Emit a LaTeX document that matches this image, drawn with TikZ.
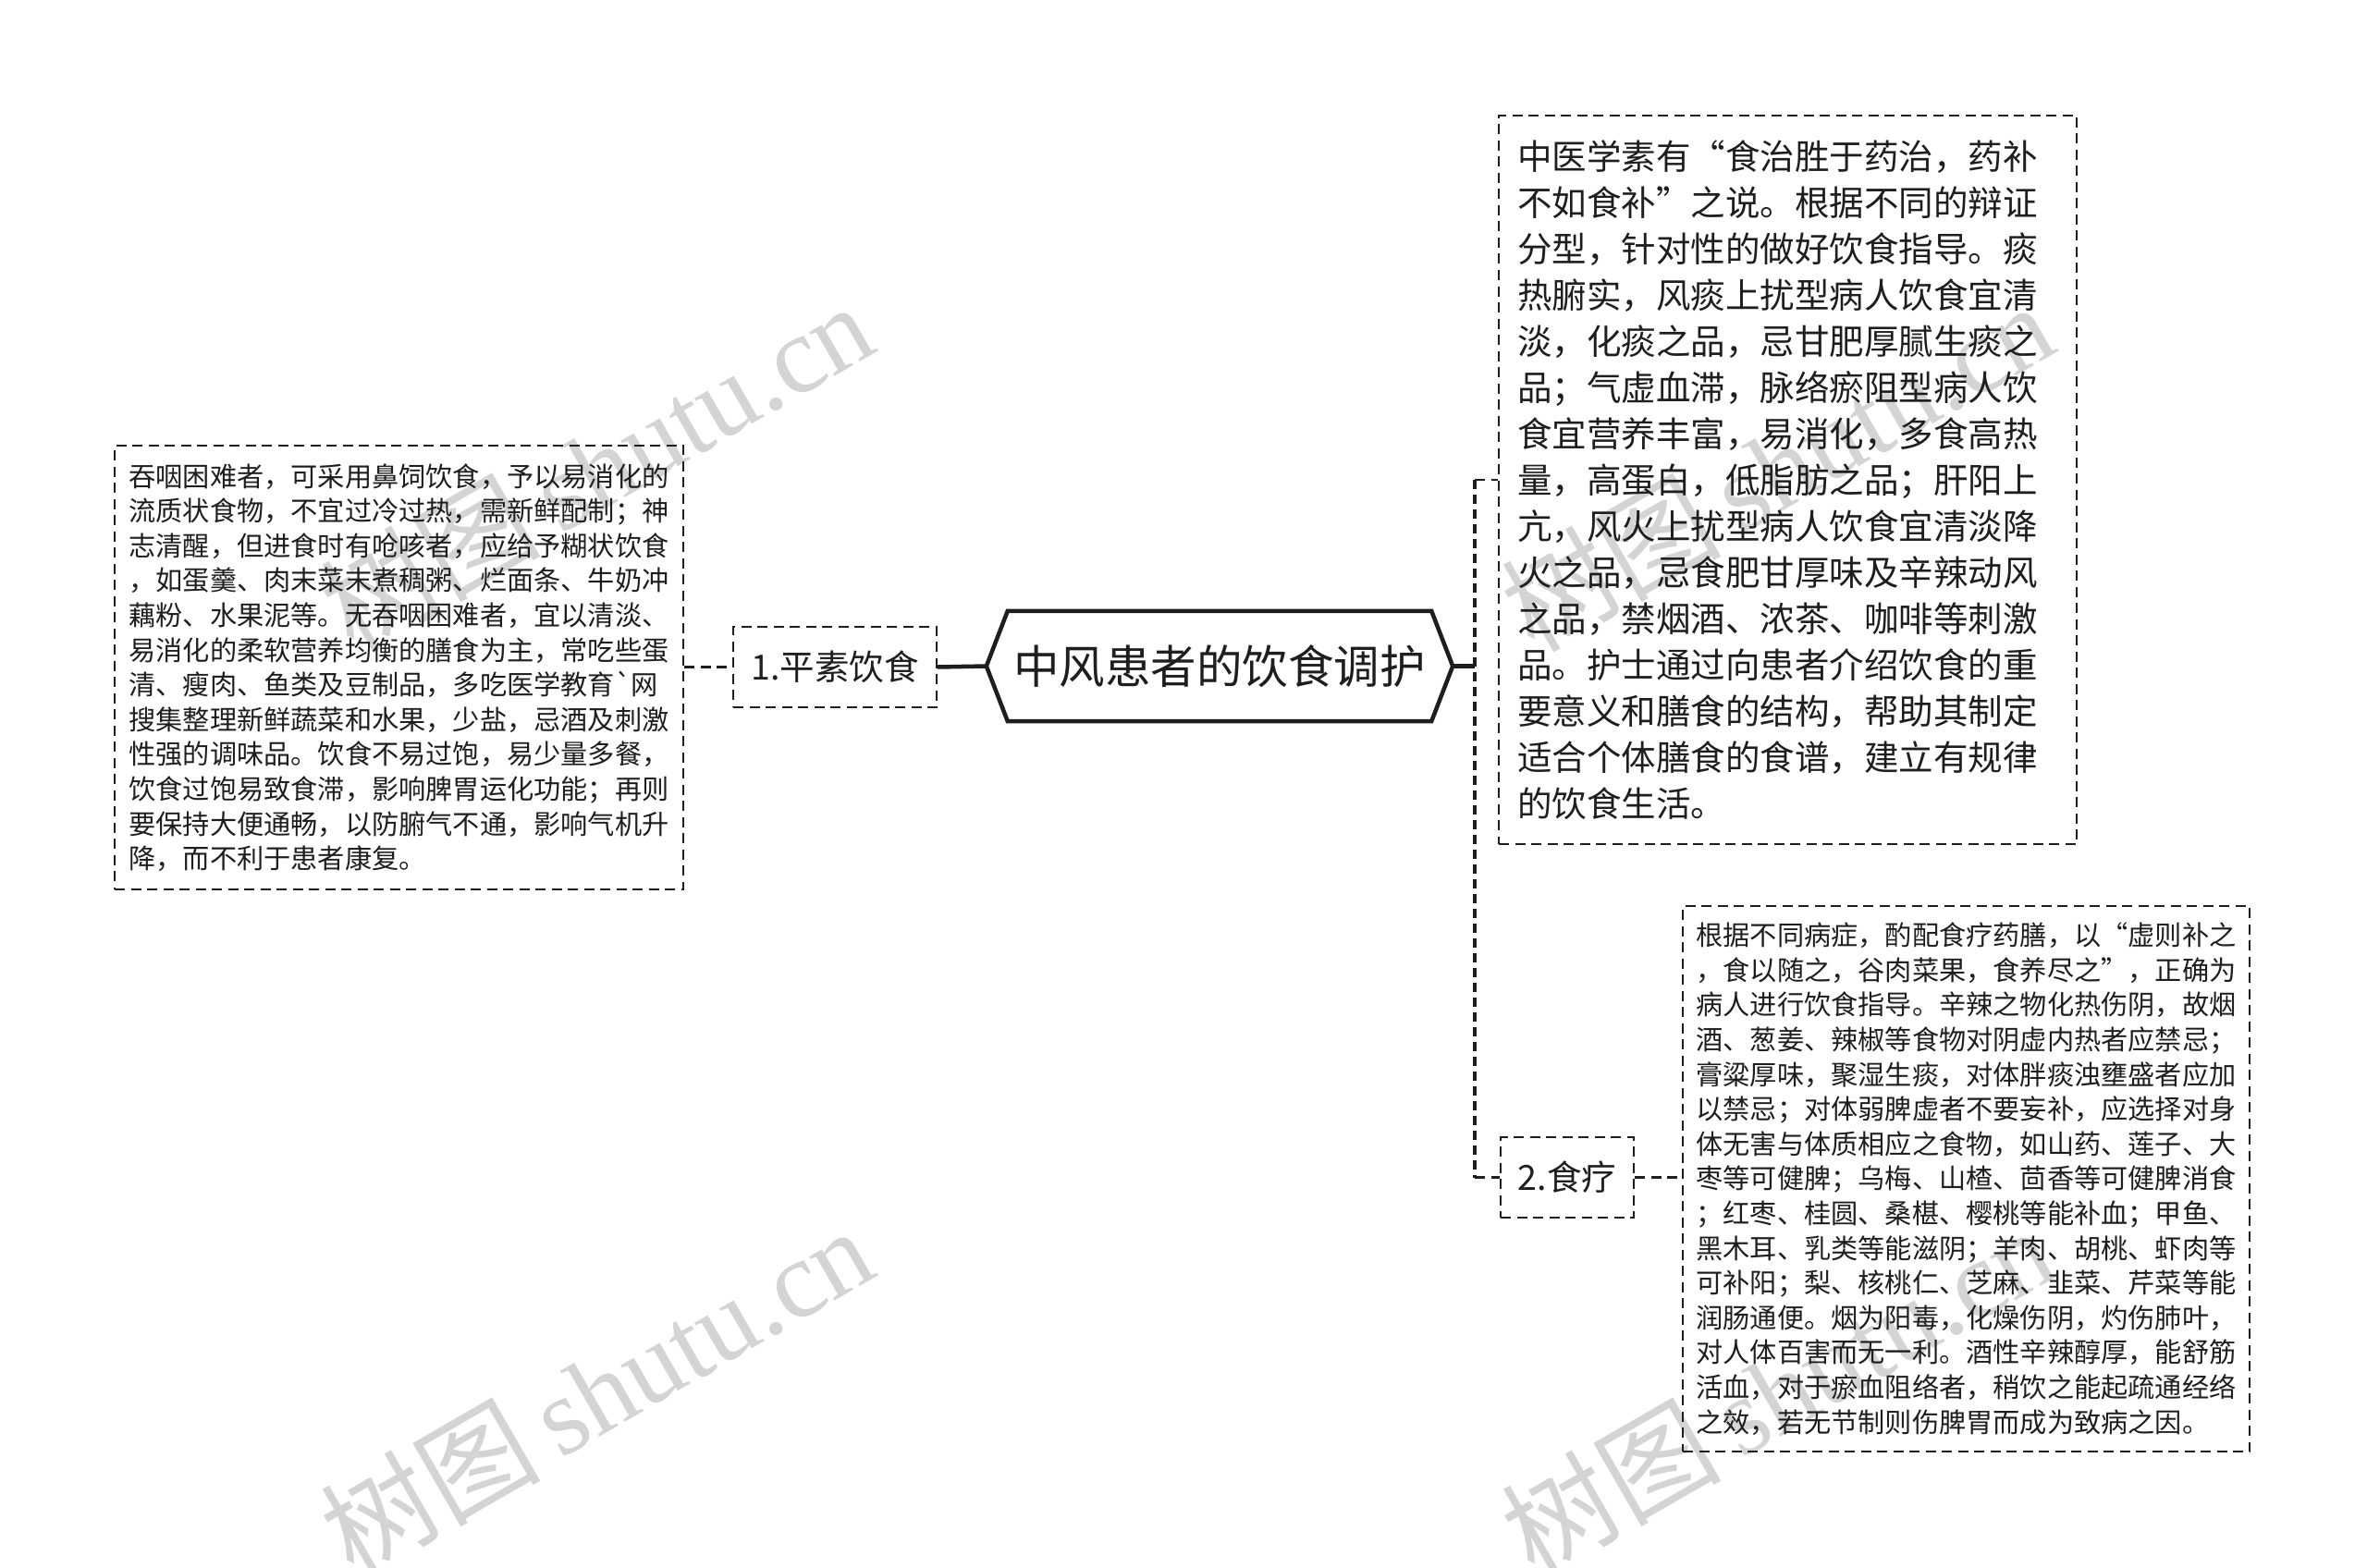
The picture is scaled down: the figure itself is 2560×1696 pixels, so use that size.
\documentclass[tikz,border=0pt]{standalone}
\usepackage{fontspec}
\usetikzlibrary{calc}
\newfontfamily\cjk{Noto Sans CJK SC}[Ligatures=TeXOff]
\newfontfamily\wmserif{Liberation Serif}
\definecolor{txt}{RGB}{30,30,30}
\definecolor{wmc}{RGB}{212,212,212}
\tikzset{
  wm/.style={text=wmc, inner sep=0pt, font=\fontsize{119}{119}\selectfont},
  boxdash/.style={draw=txt, line width=2.3pt, dash pattern=on 11pt off 6.5pt},
  leafa/.style={boxdash, align=left, inner sep=0pt, text=txt,
     font=\cjk\fontsize{29.2}{37.6}\selectfont},
  leafb/.style={boxdash, align=left, inner sep=0pt, text=txt,
     font=\cjk\fontsize{37.5}{50}\selectfont},
  subbox/.style={boxdash, inner sep=0pt, text=txt,
     font=\cjk\fontsize{37.5}{45}\selectfont},
  rootbox/.style={inner sep=0pt, text=txt, font=\cjk\fontsize{49.5}{56}\selectfont},
  rootline/.style={draw=txt, line width=4.5pt, line join=miter},
  solidc/.style={draw=txt, line width=4.5pt},
  thickdash/.style={draw=txt, line width=4.5pt, dash pattern=on 10pt off 6pt},
  thindash/.style={draw=txt, line width=2.3pt, dash pattern=on 11pt off 6.5pt}
}
\begin{document}
\begin{tikzpicture}[x=1pt,y=-1pt]
\useasboundingbox (0,0) rectangle (2560,1696);
\fill[white] (0,0) rectangle (2560,1696);
% watermarks
\node[wm, rotate=30] (wm1) at (645,504) {{\cjk 树图}\,{\wmserif shutu.cn}};
\node[wm, rotate=30] (wm2) at (645,1504) {{\cjk 树图}\,{\wmserif shutu.cn}};
\node[wm, rotate=30] (wm3) at (1922,504) {{\cjk 树图}\,{\wmserif shutu.cn}};
\node[wm, rotate=30] (wm4) at (1922,1504) {{\cjk 树图}\,{\wmserif shutu.cn}};
% root
\node[rootbox, minimum width=458pt, minimum height=119pt] (root) at (1319,720.5) {中风患者的饮食调护};
\coordinate (rootL) at ($(root.west)+(-23,0)$);
\coordinate (rootR) at ($(root.east)+(23,0)$);
\draw[rootline] (rootL) -- (root.north west) -- (root.north east) -- (rootR) -- (root.south east) -- (root.south west) -- cycle;
% first branch
\node[subbox, minimum width=220pt, minimum height=87pt] (n1) at (903,721.5) {1.平素饮食};
\node[leafa, minimum width=615pt, minimum height=480pt] (L1) at (431.5,722) {%
吞咽困难者，可采用鼻饲饮食，予以易消化的\\
流质状食物，不宜过冷过热，需新鲜配制；神\\
志清醒，但进食时有呛咳者，应给予糊状饮食\\
，如蛋羹、肉末菜末煮稠粥、烂面条、牛奶冲\\
藕粉、水果泥等。无吞咽困难者，宜以清淡、\\
易消化的柔软营养均衡的膳食为主，常吃些蛋\\
清、瘦肉、鱼类及豆制品，多吃医学教育`网\\
搜集整理新鲜蔬菜和水果，少盐，忌酒及刺激\\
性强的调味品。饮食不易过饱，易少量多餐，\\
饮食过饱易致食滞，影响脾胃运化功能；再则\\
要保持大便通畅，以防腑气不通，影响气机升\\
降，而不利于患者康复。};
% right side
\node[leafb, text width=585pt, minimum width=625pt, minimum height=788pt] (R1) at (1933.5,519) {%
中医学素有“食治胜于药治，药补\\
不如食补”之说。根据不同的辩证\\
分型，针对性的做好饮食指导。痰\\
热腑实，风痰上扰型病人饮食宜清\\
淡，化痰之品，忌甘肥厚腻生痰之\\
品；气虚血滞，脉络瘀阻型病人饮\\
食宜营养丰富，易消化，多食高热\\
量，高蛋白，低脂肪之品；肝阳上\\
亢，风火上扰型病人饮食宜清淡降\\
火之品，忌食肥甘厚味及辛辣动风\\
之品，禁烟酒、浓茶、咖啡等刺激\\
品。护士通过向患者介绍饮食的重\\
要意义和膳食的结构，帮助其制定\\
适合个体膳食的食谱，建立有规律\\
的饮食生活。};
\node[subbox, minimum width=144pt, minimum height=87pt] (n2) at (1695,1273.5) {2.食疗};
\node[leafa, minimum width=613pt, minimum height=590pt] (R2) at (2126.5,1275) {%
根据不同病症，酌配食疗药膳，以“虚则补之\\
，食以随之，谷肉菜果，食养尽之”，正确为\\
病人进行饮食指导。辛辣之物化热伤阴，故烟\\
酒、葱姜、辣椒等食物对阴虚内热者应禁忌；\\
膏粱厚味，聚湿生痰，对体胖痰浊壅盛者应加\\
以禁忌；对体弱脾虚者不要妄补，应选择对身\\
体无害与体质相应之食物，如山药、莲子、大\\
枣等可健脾；乌梅、山楂、茴香等可健脾消食\\
；红枣、桂圆、桑椹、樱桃等能补血；甲鱼、\\
黑木耳、乳类等能滋阴；羊肉、胡桃、虾肉等\\
可补阳；梨、核桃仁、芝麻、韭菜、芹菜等能\\
润肠通便。烟为阳毒，化燥伤阴，灼伤肺叶，\\
对人体百害而无一利。酒性辛辣醇厚，能舒筋\\
活血，对于瘀血阻络者，稍饮之能起疏通经络\\
之效，若无节制则伤脾胃而成为致病之因。};
% connectors
\coordinate (tk) at (1595,720.5);
\coordinate (tkTop) at (tk |- R1.west);
\coordinate (tkBot) at (tk |- n2.west);
\draw[solidc] (n1.east) -- (rootL);
\draw[thindash] (L1.east |- n1.west) -- (n1.west);
\draw[solidc] (rootR) -- (tk);
\draw[thickdash] (tkTop) -- (tkBot);
\draw[thindash] (tkTop) -- (R1.west);
\draw[thindash] (tkBot) -- (n2.west);
\draw[thindash] (n2.east) -- (n2.east -| R2.west);
\end{tikzpicture}
\end{document}
